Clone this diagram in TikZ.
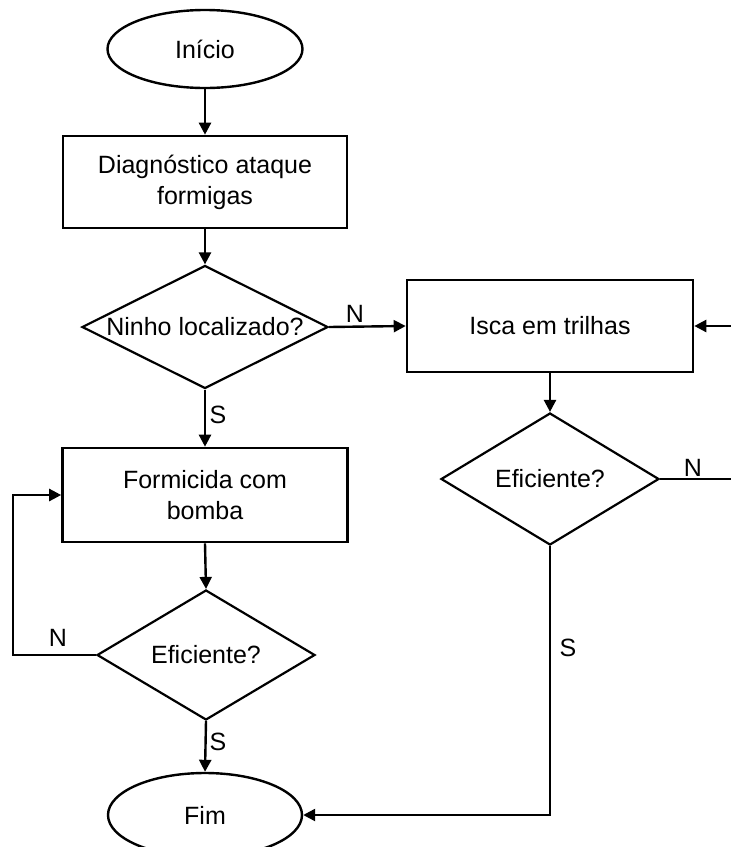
\documentclass[tikz,border=0pt]{standalone}
\usepackage{fontspec}
\setmainfont{Liberation Sans}
\usetikzlibrary{shapes.geometric,arrows.meta}
\begin{document}
\begin{tikzpicture}[x=1pt,y=-1pt,
  every node/.style={font=\fontsize{25}{31}\selectfont},
  conn/.style={line width=2.4pt},
  arr/.style={line width=2.4pt,-{Triangle[length=12pt,width=12pt]}},
  term/.style={draw,line width=2.4pt,ellipse,inner sep=0pt},
  proc/.style={draw,line width=2.6pt,rectangle,inner sep=0pt,align=center},
  dec/.style={draw,line width=2.2pt,diamond,inner sep=0pt},
  lbl/.style={inner sep=0pt}]
\useasboundingbox (0,0) rectangle (731,847);
% nodes
\node[term, minimum width=195pt, minimum height=78pt] (start) at (205,49) {In\'{\i}cio};
\node[proc, minimum width=284pt, minimum height=92pt] (diag) at (205,182) {Diagnóstico ataque\\formigas};
\node[dec, minimum width=246pt, minimum height=123pt] (d1) at (205,327) {};
\node[lbl] (t1) at (d1.center) {Ninho localizado?};
\node[proc, minimum width=286pt, minimum height=92pt] (isca) at (550,326) {Isca em trilhas};
\node[dec, minimum width=218pt, minimum height=132pt] (d2) at (550,479) {};
\node[lbl] (t2) at (d2.center) {Eficiente?};
\node[proc, minimum width=285pt, minimum height=94pt] (form) at (205,495) {Formicida com\\bomba};
\node[dec, minimum width=218pt, minimum height=130pt] (d3) at (206,655) {};
\node[lbl] (t3) at (d3.center) {Eficiente?};
\node[term, minimum width=194pt, minimum height=84pt] (fim) at (205,815) {Fim};
\coordinate (inR) at (731,326);
\coordinate (outR) at (731,479);
% connectors
\draw[arr] (start) -- (diag);
\draw[arr] (diag) -- (d1);
\draw[arr] (d1.south) -- (form.north);
\draw[arr] (d1.east) -- (isca.west);
\draw[arr] (inR) -- (isca.east);
\draw[arr] (isca.south) -- (d2.north);
\draw[conn] (d2.east) -- (outR);
\draw[arr] (d2.south) |- (fim.east);
\draw[arr] (form.south) -- (d3.north);
\draw[arr] (d3.west) -- ++(-83,0) |- (form.west);
\draw[arr] (d3.south) -- (fim.north);
% labels
\node[lbl] (lS1) at (218,415) {S};
\node[lbl] (lN1) at (355,314) {N};
\node[lbl] (lN2) at (693,468) {N};
\node[lbl] (lS2) at (568,648) {S};
\node[lbl] (lN3) at (58,638) {N};
\node[lbl] (lS3) at (218,742) {S};
\end{tikzpicture}
\end{document}
